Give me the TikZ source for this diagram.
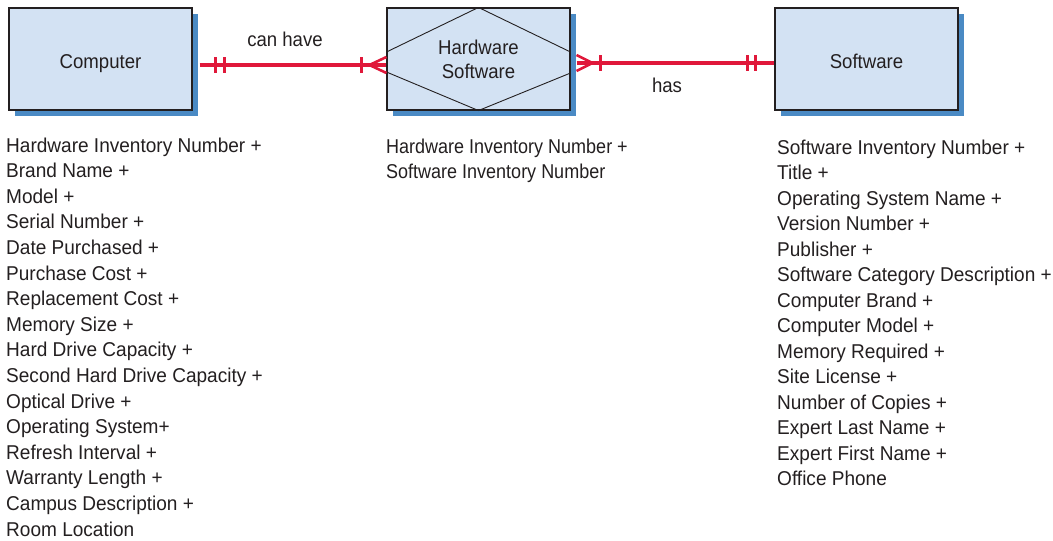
\documentclass[tikz,border=0pt]{standalone}
\usepackage{fontspec}
\setmainfont{Liberation Sans}[FakeStretch=0.93]
\newfontfamily\listwide{Liberation Sans}[FakeStretch=0.952]
\newfontfamily\listnarrow{Liberation Sans}[FakeStretch=0.90]
\usetikzlibrary{calc,shadows}
\definecolor{boxfill}{HTML}{D3E2F3}
\definecolor{shadowblue}{HTML}{4A8AC4}
\definecolor{relred}{HTML}{E0183A}
\definecolor{txt}{HTML}{231F20}
\newcommand{\atbase}[1]{\raisebox{-9pt}[0pt][0pt]{#1}}
\begin{document}
\begin{tikzpicture}[x=1pt,y=-1pt,
  every node/.style={text=txt},
  basefont/.style={font=\fontsize{20pt}{24pt}\selectfont},
  entity/.style={basefont, draw=txt, line width=1.1pt, fill=boxfill,
    minimum width=183pt, minimum height=102pt, inner sep=0pt, align=center,
    general shadow={fill=shadowblue, shadow xshift=6pt, shadow yshift=-6pt}},
  listtext/.style={font=\fontsize{20pt}{24pt}\listwide, anchor=base west, inner sep=0pt},
  midtext/.style={font=\fontsize{20pt}{24pt}\listnarrow, anchor=base west, inner sep=0pt},
  relline/.style={draw=relred, line width=3.2pt},
  relmark/.style={draw=relred, line width=3pt},
  hexline/.style={draw=txt, line width=0.9pt}]
\useasboundingbox (0,0) rectangle (1053,541);

% entities
\node[entity] (comp) at (100.5,59) {\atbase{Computer}};
\node[entity] (hs) at (478.5,59) {Hardware\\[0pt]Software};
\node[entity] (soft) at (866.5,59) {\atbase{Software}};
\draw[hexline] (hs.north) -- ($(hs.west)+(0,7pt)$)
               ($(hs.west)+(0,-13pt)$) -- (hs.south)
               -- ($(hs.east)+(0,-14pt)$)
               ($(hs.east)+(0,7pt)$) -- (hs.north);

% connector 1: Computer -- Hardware/Software
\coordinate (c1a) at ([xshift=7pt,yshift=-6pt]comp.east);
\coordinate (c1b) at ([yshift=-6pt]hs.west);
\draw[relline] (c1a) -- (c1b);
\draw[relmark] ($(c1a)+(16pt,8pt)$) -- ($(c1a)+(16pt,-8pt)$)
               ($(c1a)+(25pt,8pt)$) -- ($(c1a)+(25pt,-8pt)$)
               ($(c1b)+(-25pt,8pt)$) -- ($(c1b)+(-25pt,-8pt)$);
\draw[relmark, line width=2.6pt] ($(c1b)+(-17pt,0pt)$) -- ($(c1b)+(0pt,8pt)$)
               ($(c1b)+(-17pt,0pt)$) -- ($(c1b)+(0pt,-8pt)$);
\node[basefont, anchor=base] (lbl1) at (285,46) {can have};

% connector 2: Hardware/Software -- Software
\coordinate (c2a) at ([xshift=6pt,yshift=-4pt]hs.east);
\coordinate (c2b) at ([yshift=-4pt]soft.west);
\draw[relline] (c2a) -- (c2b);
\draw[relmark, line width=2.6pt] ($(c2a)+(16pt,0pt)$) -- ($(c2a)+(0pt,8pt)$)
               ($(c2a)+(16pt,0pt)$) -- ($(c2a)+(0pt,-8pt)$);
\draw[relmark] ($(c2a)+(24pt,8pt)$) -- ($(c2a)+(24pt,-8pt)$)
               ($(c2b)+(-27pt,8pt)$) -- ($(c2b)+(-27pt,-8pt)$)
               ($(c2b)+(-19pt,8pt)$) -- ($(c2b)+(-19pt,-8pt)$);
\node[basefont, anchor=base] (lbl2) at (667,92) {has};

% attribute lists
\foreach \t [count=\i from 0] in {Hardware Inventory Number +, Brand Name +, Model +,
  Serial Number +, Date Purchased +, Purchase Cost +, Replacement Cost +,
  Memory Size +, Hard Drive Capacity +, Second Hard Drive Capacity +,
  Optical Drive +, Operating System+, Refresh Interval +, Warranty Length +,
  Campus Description +, Room Location}
  \node[listtext, name=ca\i] at (6,{152+25.6*\i}) {\t};

\foreach \t [count=\i from 0] in {Hardware Inventory Number +, Software Inventory Number}
  \node[midtext, name=ha\i] at (386,{153+25.6*\i}) {\t};

\foreach \t [count=\i from 0] in {Software Inventory Number +, Title +,
  Operating System Name +, Version Number +, Publisher +,
  Software Category Description +, Computer Brand +, Computer Model +,
  Memory Required +, Site License +, Number of Copies +, Expert Last Name +,
  Expert First Name +, Office Phone}
  \node[listtext, name=sa\i] at (777,{154+25.5*\i}) {\t};
\end{tikzpicture}
\end{document}
